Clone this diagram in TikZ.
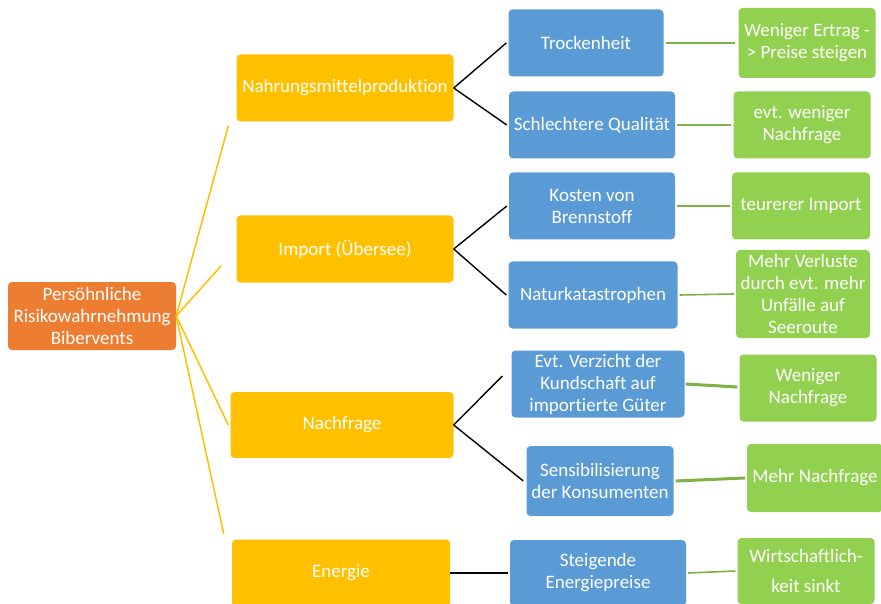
\documentclass[tikz,border=0pt]{standalone}
\usepackage{fontspec}
\setmainfont{Carlito}[Ligatures=NoCommon]
\usetikzlibrary{positioning}
\definecolor{rootorange}{HTML}{ED7D31}
\definecolor{topicyellow}{HTML}{FFC000}
\definecolor{causeblue}{HTML}{5B9BD5}
\definecolor{effectgreen}{HTML}{92D050}

\begin{document}
\begin{tikzpicture}[x=1pt,y=-1pt]

\tikzset{box/.style = {rounded corners=4pt, text=white, align=center, inner sep=1pt, font=\fontsize{19}{22}\selectfont}}
\tikzset{root/.style = {box, fill=rootorange}}
\tikzset{topic/.style = {box, fill=topicyellow, minimum height=67pt}}
\tikzset{cause/.style = {box, fill=causeblue, minimum height=67pt}}
\tikzset{effect/.style = {box, fill=effectgreen, minimum height=67pt}}
\tikzset{rootline/.style = {draw=topicyellow, line width=1.5pt}}
\tikzset{causeline/.style = {draw=black, line width=1.4pt}}
\tikzset{effectline/.style = {draw=effectgreen!85!black, line width=1.6pt}}

\useasboundingbox (0,0) rectangle (881,604);

%root
\node[root, minimum width=168pt, minimum height=68pt] (r) at (92,316) {Persöhnliche\\Risikowahrnehmung\\Bibervents};

%topics
\node[topic, minimum width=217pt] (t1) at (345,88) {Nahrungsmittelproduktion};
\node[topic, minimum width=217pt] (t2) at (345,249) {Import (Übersee)};
\node[topic, minimum width=223pt, minimum height=66pt] (t3) at (342,425) {Nachfrage};
\node[topic, minimum width=218pt] (t4) at (341,573) {Energie};

%causes
\node[cause, minimum width=155pt] (c1) at (586,43) {Trockenheit};
\node[cause, minimum width=166pt] (c2) at (592,125) {Schlechtere Qualität};
\node[cause, minimum width=166pt] (c3) at (592,206) {Kosten von\\Brennstoff};
\node[cause, minimum width=169pt] (c4) at (593,295) {Naturkatastrophen};
\node[cause, minimum width=173pt] (c5) at (598,384) {Evt. Verzicht der\\Kundschaft auf\\importierte Güter};
\node[cause, minimum width=147pt, minimum height=70pt] (c6) at (600,481) {Sensibilisierung\\der Konsumenten};
\node[cause, minimum width=176pt, minimum height=66pt] (c7) at (598,573) {Steigende\\Energiepreise};

%effects
\node[effect, minimum width=137pt, minimum height=70pt] (e1) at (807,43) {Weniger Ertrag -\\> Preise steigen};
\node[effect, minimum width=137pt] (e2) at (802,125) {evt. weniger\\Nachfrage};
\node[effect, minimum width=138pt] (e3) at (801,206) {teurerer Import};
\node[effect, minimum width=134pt, minimum height=88pt] (e4) at (803,294) {Mehr Verluste\\durch evt. mehr\\Unfälle auf\\Seeroute};
\node[effect, minimum width=137pt] (e5) at (808,388) {Weniger\\Nachfrage};
\node[effect, minimum width=136pt, minimum height=68pt] (e6) at (815,478) {Mehr Nachfrage};
\node[effect, minimum width=137pt, minimum height=66pt, font=\fontsize{19}{30}\selectfont] (e7) at (806,571) {Wirtschaftlich-\\keit sinkt};

%root edges
\draw[rootline] (r.east) -- ([xshift=-8pt,yshift=-4pt]t1.south west);
\draw[rootline] (r.east) -- ([xshift=-15pt,yshift=17pt]t2.south west);
\draw[rootline] (r.east) -- ([xshift=-2pt]t3.west);
\draw[rootline] (r.east) -- ([xshift=-8pt,yshift=5pt]t4.north west);

%cause edges
\draw[causeline] (t1.east) -- ([xshift=-2pt]c1.west);
\draw[causeline] (t1.east) -- ([xshift=-2pt]c2.west);
\draw[causeline] (t2.east) -- ([xshift=-2pt]c3.west);
\draw[causeline] (t2.east) -- ([xshift=-2pt]c4.west);
\draw[causeline] (t3.east) -- ([xshift=-9pt,yshift=8pt]c5.west);
\draw[causeline] (t3.east) -- ([xshift=-3pt]c6.west);
\draw[causeline] (t4.east) -- ([xshift=-2pt]c7.west);

%effect edges
\draw[effectline] ([xshift=2pt]c1.east) -- ([xshift=-3pt]e1.west);
\draw[effectline] ([xshift=2pt]c2.east) -- ([xshift=-2pt]e2.west);
\draw[effectline] ([xshift=2pt]c3.east) -- ([xshift=-2pt]e3.west);
\draw[effectline] ([xshift=2pt]c4.east) -- ([xshift=-2pt]e4.west);
\draw[effectline, line width=3pt] ([xshift=1pt]c5.east) -- ([xshift=-2pt,yshift=1pt]e5.west);
\draw[effectline, line width=3pt] ([xshift=2pt]c6.east) -- ([xshift=-2pt]e6.west);
\draw[effectline] ([xshift=2pt]c7.east) -- ([xshift=-2pt]e7.west);

\end{tikzpicture}
\end{document}
